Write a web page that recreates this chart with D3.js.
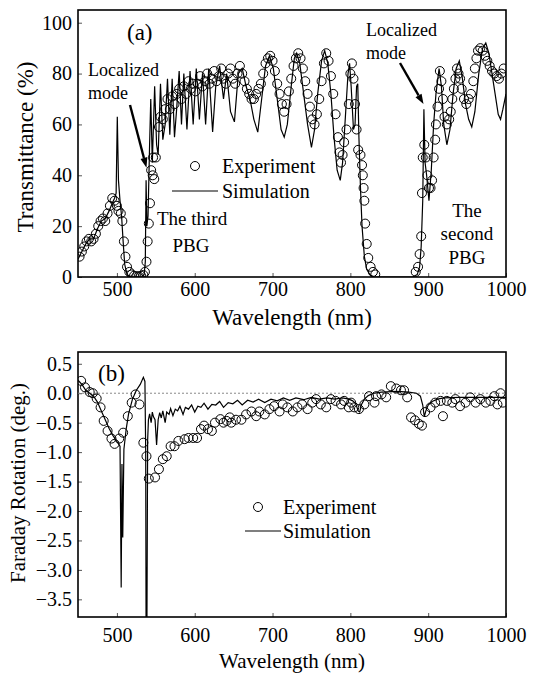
<!DOCTYPE html>
<html>
<head>
<meta charset="utf-8">
<script src="https://cdn.jsdelivr.net/npm/d3@7"></script>
<style>
  body { margin: 0; background: #fff; }
  svg text { font-family: "Liberation Serif", "Times New Roman", serif; fill: #000; }
</style>
</head>
<body>
<svg id="chart" width="533" height="674"></svg>
<script>
// (a) transmittance, simulation curve [wavelength nm, T %]
const simA = [
  [450,7],[455,10],[460,13],[465,15],[470,15],[475,19],[480,22],[485,23],[490,26],[494,29],[497,31],[499,33],
  [500.5,63],[502,38],[504,30],[506,24],[508,14],[510,5],[513,1],[518,0],[525,0],[532,0],[535,1],[536.5,6],
  [537.5,38],[538.5,20],[540,24],[542,52],[543.5,70],[545.5,45],[548.5,75],[551,52],[553,48],[556,76],[559,54],
  [562,60],[565,78],[568,56],[571,78],[574,55],[577,67],[580,81],[583,60],[586,80],[590,58],[594,81],[598,60],
  [602,82],[606,62],[610,80],[614,60],[618,82],[623,57],[627,75],[632,83],[637,70],[641,80],[646,65],[651,61],
  [656,80],[661,82],[666,75],[671,70],[676,62],[681,57],[686,70],[691,83],[696,87],[701,82],[706,70],[711,58],
  [715,55],[719,60],[724,75],[728,86],[731,88],[735,84],[740,72],[745,60],[750,51],[754,58],[758,72],[763,85],
  [767,89],[771,84],[775,72],[779,55],[783,42],[787,38],[790,45],[794,65],[797,80],[799,84],[801,75],[804,58],
  [806,60],[808,75],[809.5,76],[811,55],[813,35],[815,20],[818,8],[821,3],[825,1],[830,0],[880,0],[886,1],
  [889,4],[891,12],[893,30],[894.5,66],[896,45],[898,40],[901,30],[904,42],[907,60],[910,72],[914,82],[917,75],
  [920,60],[924,52],[928,58],[932,72],[936,82],[940,85],[944,78],[948,68],[952,62],[956,59],[960,65],[965,80],
  [970,90],[974,92],[978,88],[982,80],[986,72],[990,64],[993,62],[996,66],[1000,72]
];

// (a) transmittance, experiment points
const expA = [
  [452,8],[455,10],[458,12],[461,14],[464,15],[467,14],[470,15],[473,17],[476,20],[479,22],[482,23],[485,22],
  [488,25],[491,28],[494,31],[497,30],[500,28],[502,26],[505,25],[507,22],[509,14],[511,8],[513,4],[516,2],
  [519,1],[522,0.5],[525,0.3],[528,0.3],[531,0.5],[534,0.8],[536,2],[538,6],[539.5,14],[541,21],[542.5,29],
  [544,42],[546,40],[548,38.5],[546.5,47],[550,47],[554,59],[556,63],[559,62],[562,66],[565,70],[568,66],
  [571,71],[574,68],[577,72],[580,74],[583,70],[586,75],[589,72],[592,77],[595,74],[598,76],[601,73],[604,76],
  [607,79],[610,75],[613,77],[616,80],[619,76],[622,78],[625,81],[628,77],[631,79],[634,82],[637,78],[640,76],
  [643,80],[646,82],[649,78],[652,76],[655,80],[658,83],[661,80],[664,77],[667,74],[670,72],[673,70],[676,70],
  [679,72],[682,74],[685,76],[688,80],[691,84],[694,86],[697,87],[700,85],[703,81],[706,76],[709,72],[712,68],
  [715,65],[718,68],[721,73],[724,78],[727,83],[730,86],[733,88],[736,86],[739,82],[742,77],[745,72],[748,67],
  [751,62],[754,60],[757,64],[760,70],[763,77],[766,84],[769,88],[772,85],[775,79],[778,72],[781,64],[784,55],
  [786,49],[788,45],[790,48],[792,53],[795,58],[798,68],[800,80],[802,84],[804,78],[806,68],[808,58],[810,50],
  [813,48],[815,44],[816,40],[817,35],[818,30],[819,21],[821,13],[823,7.5],[826,4],[829,2],[832,1],
  [884,2],[887,4],[889,9],[891,16],[892,33],[893,47],[895,52],[897,47],[899,40],[901,35],[903,35],[905,38],
  [907,47],[909,54],[910,60],[912,67],[914,74],[915,81],[917,77],[919,70],[921,63],[924,60],[927,62],[929,65],
  [931,70],[933,74],[935,78],[937,82],[939,80],[941,78],[943,74],[946,70],[949,68],[952,70],[955,72],[958,77],
  [960,82],[962,86],[964,89],[967,90],[970,89],[973,87],[976,85],[979,83],[982,81],[985,80],[988,79],[991,78],
  [994,80],[997,82]
];

// (b) Faraday rotation, simulation [wavelength nm, deg]
const simB = [
  [450,0.22],[455,0.15],[460,0.05],[465,0],[470,-0.05],[475,-0.15],[480,-0.3],[485,-0.45],[490,-0.6],[495,-0.72],
  [500,-0.82],[504,-0.9],[505.5,-3.3],[506.5,-1.2],[507.5,-2.45],[509,-0.95],[512,-0.6],[515,-0.35],[520,-0.1],
  [525,0.05],[530,0.15],[534,0.27],[536,0.2],[537,-1.0],[537.5,-4.2],[538.5,-4.2],[539.5,-0.8],[540.5,-0.45],
  [542,-0.35],[544,-0.5],[545.5,-0.32],[547,-0.4],[549,-0.45],[551,-0.88],[553,-0.45],[555,-0.33],[557,-0.42],
  [559,-0.3],[562,-0.5],[564,-0.32],[567,-0.36],[569,-0.26],[572,-0.38],[575,-0.27],[578,-0.3],[581,-0.22],
  [585,-0.36],[588,-0.24],[592,-0.27],[596,-0.2],[600,-0.32],[604,-0.22],[608,-0.24],[612,-0.17],[617,-0.27],
  [622,-0.19],[627,-0.2],[632,-0.14],[637,-0.24],[643,-0.16],[649,-0.18],[655,-0.12],[661,-0.2],[668,-0.12],
  [675,-0.15],[682,-0.1],[690,-0.16],[698,-0.1],[706,-0.13],[714,-0.08],[722,-0.12],[730,-0.08],[740,-0.11],
  [750,-0.07],[760,-0.1],[770,-0.08],[780,-0.1],[790,-0.08],[798,-0.1],[803,-0.13],[807,-0.18],[810,-0.3],
  [812,-0.32],[814,-0.2],[818,-0.1],[823,-0.04],[830,0],[840,0.02],[860,0.03],[875,0.02],[885,0],[890,-0.05],
  [893,-0.2],[895,-0.4],[897,-0.3],[900,-0.2],[905,-0.14],[912,-0.1],[920,-0.08],[940,-0.07],[960,-0.07],
  [980,-0.07],[1000,-0.07]
];

// (b) Faraday rotation, experiment points
const expB = [
  [454,0.21],[459,0.1],[465,0.02],[469,0],[474,-0.09],[479,-0.24],[483,-0.47],[488,-0.64],[493,-0.77],[497,-0.86],
  [503,-0.77],[508,-0.67],[514,-0.39],[519,-0.16],[524,-0.02],[529,-0.19],[534,-0.84],[538,-1.07],[541,-1.45],
  [549,-1.43],[554,-1.29],[559,-1.12],[564,-1.07],[569,-0.9],[574,-0.9],[579,-0.81],[587,-0.78],[592,-0.76],
  [598,-0.76],[603,-0.76],[608,-0.61],[612,-0.55],[617,-0.61],[622,-0.64],[626,-0.5],[633,-0.44],[637,-0.5],
  [641,-0.47],[645,-0.41],[647,-0.5],[653,-0.45],[660,-0.45],[666,-0.36],[673,-0.31],[679,-0.39],[683,-0.31],
  [690,-0.36],[696,-0.27],[702,-0.22],[709,-0.31],[713,-0.19],[719,-0.24],[726,-0.31],[732,-0.24],[738,-0.19],
  [745,-0.27],[751,-0.16],[756,-0.1],[762,-0.19],[769,-0.24],[775,-0.1],[781,-0.13],[788,-0.19],[792,-0.13],
  [798,-0.24],[801,-0.16],[805,-0.24],[811,-0.27],[818,-0.19],[824,-0.05],[831,-0.16],[833,-0.05],[840,-0.02],
  [846,-0.07],[852,0.12],[859,0.08],[865,0.05],[869,0.05],[873,-0.07],[878,-0.41],[883,-0.46],[888,-0.52],
  [892,-0.55],[896,-0.32],[903,-0.24],[909,-0.16],[916,-0.13],[919,-0.39],[924,-0.13],[931,-0.16],[935,-0.1],
  [941,-0.22],[948,-0.16],[954,-0.07],[961,-0.16],[967,-0.1],[974,-0.16],[980,-0.13],[985,-0.05],[989,-0.19],
  [993,0],[996,-0.16]
];

const xTicks = [500, 600, 700, 800, 900, 1000];
const yTicksA = [0, 20, 40, 60, 80, 100];
const yTicksB = [0.5, 0, -0.5, -1, -1.5, -2, -2.5, -3, -3.5];

const FONT = '"Liberation Serif", "Times New Roman", serif';
const svg = d3.select("#chart");
const L = 78, R = 506;

function panel(top, bottom, yDomain, yTicks, yFmt, xPad, id) {
  const x = d3.scaleLinear().domain([450, 1000]).range([L, R]);
  const y = d3.scaleLinear().domain(yDomain).range([bottom, top]);
  const g = svg.append("g");

  g.append("clipPath").attr("id", id).append("rect")
    .attr("x", L).attr("y", top).attr("width", R - L).attr("height", bottom - top);

  const xa = g.append("g").attr("transform", "translate(0," + bottom + ")")
    .call(d3.axisBottom(x).tickValues(xTicks).tickFormat(d3.format("d"))
      .tickSizeInner(-4).tickSizeOuter(0).tickPadding(xPad));
  const ya = g.append("g").attr("transform", "translate(" + L + ",0)")
    .call(d3.axisLeft(y).tickValues(yTicks).tickFormat(yFmt).tickSizeInner(-4).tickSizeOuter(0).tickPadding(6));
  [xa, ya].forEach(a => {
    a.select(".domain").remove();
    a.attr("font-family", FONT);
    a.selectAll("text").attr("font-size", 20).style("font-family", FONT);
    a.selectAll("line").attr("stroke", "#555");
  });

  g.append("rect").attr("x", L).attr("y", top).attr("width", R - L).attr("height", bottom - top)
    .attr("fill", "none").attr("stroke", "#000").attr("stroke-width", 1.6);

  const body = g.append("g").attr("clip-path", "url(#" + id + ")");
  return {x, y, g, body};
}

function drawData(p, sim, exp) {
  p.body.append("path").datum(sim)
    .attr("fill", "none").attr("stroke", "#000").attr("stroke-width", 1.2)
    .attr("d", d3.line().x(d => p.x(d[0])).y(d => p.y(d[1])));
  p.body.selectAll("circle.e").data(exp).enter().append("circle")
    .attr("cx", d => p.x(d[0])).attr("cy", d => p.y(d[1])).attr("r", 4.5)
    .attr("fill", "none").attr("stroke", "#000").attr("stroke-width", 1);
}

function legend(cx, cy, lx1, lx2, ly, tx) {
  svg.append("circle").attr("cx", cx).attr("cy", cy).attr("r", 4.5)
    .attr("fill", "none").attr("stroke", "#000").attr("stroke-width", 1);
  label(tx, cy, "Experiment", 20);
  svg.append("line").attr("x1", lx1).attr("x2", lx2).attr("y1", ly).attr("y2", ly)
    .attr("stroke", "#000").attr("stroke-width", 1.2);
  label(tx, ly, "Simulation", 20);
}

function arrow(x1, y1, x2, y2) {
  const a = Math.atan2(y2 - y1, x2 - x1), h = 10, w = 3.5;
  const bx = x2 - h * Math.cos(a), by = y2 - h * Math.sin(a);
  svg.append("line").attr("x1", x1).attr("y1", y1).attr("x2", bx).attr("y2", by)
    .attr("stroke", "#000").attr("stroke-width", 2.4);
  svg.append("path").attr("fill", "#000")
    .attr("d", "M" + x2 + "," + y2 + "L" + (bx + w * Math.sin(a)) + "," + (by - w * Math.cos(a)) +
      "L" + (bx - w * Math.sin(a)) + "," + (by + w * Math.cos(a)) + "Z");
}

function label(x, y, txt, size, anchor) {
  return svg.append("text").attr("x", x).attr("y", y).attr("dy", "0.35em")
    .attr("font-size", size).attr("text-anchor", anchor || "start")
    .style("font-family", FONT).text(txt);
}

// ---- panel (a)
const pa = panel(10, 277, [0, 105], yTicksA, d3.format("d"), 5, "clipA");
drawData(pa, simA, expA);
legend(195, 166, 172, 218, 191, 222);
label(127, 32, "(a)", 23);
label(88, 70, "Localized", 18);
label(88, 93, "mode", 18);
arrow(130, 105, pa.x(538), pa.y(43));
label(157, 218, "The third", 19);
label(191, 245, "PBG", 19, "middle");
label(366, 30, "Localized", 18);
label(366, 53, "mode", 18);
arrow(400, 63, pa.x(894), pa.y(68));
label(467, 210, "The", 19, "middle");
label(467, 233, "second", 19, "middle");
label(467, 257, "PBG", 19, "middle");
label(292, 317, "Wavelength (nm)", 23, "middle");
label(0, 0, "Transmittance (%)", 23, "middle").attr("transform", "translate(25,147) rotate(-90)");

// ---- panel (b)
const pb = panel(352, 617, [-3.8, 0.7], yTicksB, d3.format(".1f"), 11, "clipB");
pb.body.append("line").attr("x1", L).attr("x2", R).attr("y1", pb.y(0)).attr("y2", pb.y(0))
  .attr("stroke", "#888").attr("stroke-width", 1).attr("stroke-dasharray", "2,2");
drawData(pb, simB, expB);
legend(258, 507, 245, 281, 531, 283);
label(98, 373, "(b)", 23);
label(292, 661, "Wavelength (nm)", 21, "middle");
label(0, 0, "Faraday Rotation (deg.)", 21, "middle").attr("transform", "translate(18,483) rotate(-90)");
</script>
</body>
</html>
